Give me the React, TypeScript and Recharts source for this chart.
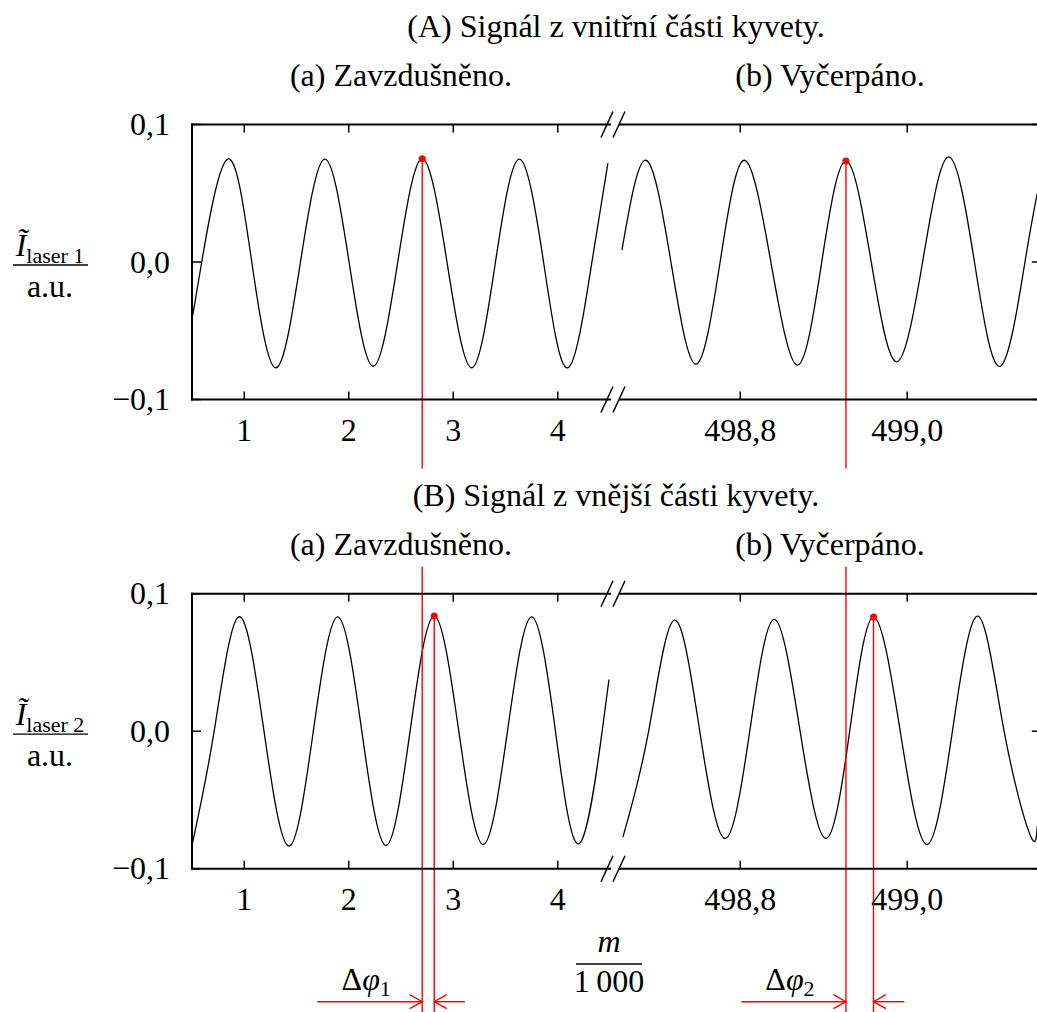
import React from 'react';
import { LineChart, Line, XAxis, YAxis, ReferenceLine, ReferenceDot } from 'recharts';

// (A) inner part of the cuvette, air-filled: x = m/1000, y = intensity (a.u.)
const aAirX = [0.5, 0.593, 0.841, 1.072, 1.303, 1.538, 1.772, 2.003, 2.234, 2.469, 2.703, 2.94, 3.176, 3.404, 3.632, 3.864, 4.095, 4.327, 4.48];
const aAirY = [-0.042, 0, 0.0748, 0, -0.077, 0, 0.0748, 0, -0.0758, 0, 0.0751, 0, -0.077, 0, 0.0748, 0, -0.077, 0, 0.0719];

// (A) evacuated
const aVacX = [498.6583, 498.6871, 498.717, 498.7469, 498.7759, 498.8048, 498.8367, 498.8686, 498.8976, 498.9266, 498.9569, 498.9872, 499.0184, 499.0495, 499.0805, 499.1114, 499.141, 499.1557];
const aVacY = [0.0086, 0.074, 0, -0.0743, 0, 0.074, 0, -0.075, 0, 0.0735, 0, -0.0726, 0, 0.0764, 0, -0.0758, 0, 0.0498];

// (B) outer part of the cuvette, air-filled
const bAirX = [0.5, 0.712, 0.949, 1.189, 1.428, 1.661, 1.894, 2.125, 2.356, 2.587, 2.818, 3.053, 3.287, 3.519, 3.75, 3.978, 4.206, 4.425, 4.49];
const bAirY = [-0.083, 0, 0.0832, 0, -0.0836, 0, 0.0832, 0, -0.0831, 0, 0.0837, 0, -0.0824, 0, 0.0832, 0, -0.0817, 0, 0.0376];

// (B) evacuated
const bVacX = [498.6595, 498.6903, 498.721, 498.7515, 498.782, 498.8114, 498.8407, 498.8717, 498.9026, 498.9311, 498.9596, 498.9916, 499.0236, 499.0541, 499.0847, 499.116, 499.1473, 499.1557];
const bVacY = [-0.077, 0, 0.0808, 0, -0.078, 0, 0.0813, 0, -0.078, 0, 0.083, 0, -0.0824, 0, 0.0837, 0, -0.0756, -0.069];

// marked maxima [air, evacuated]
const aPeakX = [2.703, 498.9266];
const aPeakY = [0.0751, 0.0735];
const bPeakX = [2.818, 498.9596];
const bPeakY = [0.0837, 0.083];

const airTicks = [1, 2, 3, 4];
const vacTicks = [498.8, 499.0];
const yTicks = [-0.1, 0, 0.1];

const panelTitles = ['(A) Signál z vnitřní části kyvety.', '(B) Signál z vnější části kyvety.'];
const sectionTitles = ['(a) Zavzdušněno.', '(b) Vyčerpáno.'];
const laserNames = ['laser 1', 'laser 2'];
const deltaSubs = ['1', '2'];

const W = 1045;
const H = 1012;
const PH = 275;
const TOPS = [124.5, 593.7];
const AIR = { x0: 192, w: 418, domain: [0.5, 4.5] as [number, number] };
const VAC = { x0: 620, w: 420.84, domain: [498.656, 499.16] as [number, number] };
const FONT = '"Liberation Serif", "Times New Roman", serif';
const FS = 32;
const RED = '#ff0000';
const FRAME = { stroke: '#000', strokeWidth: 2, strokeLinecap: 'square' as const };

function fmt(v: number, digits: number) {
  const s = Math.abs(v).toFixed(digits).replace('.', ',');
  return v < -1e-9 ? '\u2212' + s : s;
}

function BottomTick(p: any) {
  return (
    <g>
      <line x1={p.x} x2={p.x} y1={p.y} y2={p.y - 8} stroke="#000" strokeWidth={1.5} />
      <text x={p.x} y={p.y + 41} textAnchor="middle" fontSize={FS} fontFamily={FONT} fill="#000">
        {fmt(p.payload.value, p.digits)}
      </text>
    </g>
  );
}

function TopTick(p: any) {
  return <line x1={p.x} x2={p.x} y1={p.y} y2={p.y + 8} stroke="#000" strokeWidth={1.5} />;
}

function LeftTick(p: any) {
  return (
    <g>
      <line x1={p.x} x2={p.x + 9} y1={p.y} y2={p.y} stroke="#000" strokeWidth={1.5} />
      <text x={p.x - 22} y={p.y + 10.5} textAnchor="end" fontSize={FS} fontFamily={FONT} fill="#000">
        {fmt(p.payload.value, 1)}
      </text>
    </g>
  );
}

function RightTick(p: any) {
  return <line x1={p.x} x2={p.x - 9} y1={p.y} y2={p.y} stroke="#000" strokeWidth={1.5} />;
}

function Arrow({ tip, tail, y }: { tip: number; tail: number; y: number }) {
  const d = tail < tip ? 1 : -1;
  return (
    <g stroke={RED} strokeWidth={1.4} fill="none">
      <line x1={tail} y1={y} x2={tip} y2={y} />
      <polyline points={`${tip - d * 12.5},${y - 7} ${tip},${y} ${tip - d * 12.5},${y + 7}`} />
    </g>
  );
}

type SegProps = {
  xs: number[];
  ys: number[];
  seg: typeof AIR;
  top: number;
  ticks: number[];
  digits: number;
  side: 'left' | 'right';
  peakX: number;
  peakY: number;
  refX?: number;
  sub?: string;
};

function Segment(s: SegProps) {
  const data = s.xs.map((x, i) => ({ x, y: s.ys[i] }));
  // axes are 1px thick boxes, so the plot area lands exactly on the frame
  const margin = {
    left: s.seg.x0 - (s.side === 'left' ? 1 : 0),
    top: s.top - 1,
    right: W - s.seg.x0 - s.seg.w - (s.side === 'right' ? 1 : 0),
    bottom: H - s.top - PH - 1,
  };
  const inB = s.refX !== undefined;

  return (
    <div style={{ position: 'absolute', left: 0, top: 0 }}>
      <LineChart width={W} height={H} data={data} margin={margin}>
        <XAxis
          type="number"
          dataKey="x"
          domain={s.seg.domain}
          ticks={s.ticks}
          interval={0}
          height={1}
          tickSize={0}
          tickMargin={0}
          tickLine={false}
          axisLine={FRAME}
          tick={(p: any) => <BottomTick {...p} digits={s.digits} />}
          allowDataOverflow
        />
        <XAxis
          xAxisId="top"
          orientation="top"
          type="number"
          dataKey="x"
          domain={s.seg.domain}
          ticks={s.ticks}
          interval={0}
          height={1}
          tickSize={0}
          tickMargin={0}
          tickLine={false}
          axisLine={FRAME}
          tick={TopTick}
          allowDataOverflow
        />
        <YAxis
          type="number"
          domain={[-0.1, 0.1]}
          ticks={yTicks}
          interval={0}
          width={1}
          tickSize={0}
          tickMargin={0}
          tickLine={false}
          axisLine={FRAME}
          tick={LeftTick}
          hide={s.side === 'right'}
          allowDataOverflow
        />
        {s.side === 'right' && (
          <YAxis
            yAxisId="right"
            orientation="right"
            type="number"
            domain={[-0.1, 0.1]}
            ticks={yTicks}
            interval={0}
            width={1}
            tickSize={0}
            tickMargin={0}
            tickLine={false}
            axisLine={FRAME}
            tick={RightTick}
            allowDataOverflow
          />
        )}
        <Line
          type="natural"
          dataKey="y"
          stroke="#000"
          strokeWidth={1.3}
          dot={false}
          activeDot={false}
          isAnimationActive={false}
        />
        {inB && (
          <ReferenceLine
            ifOverflow="visible"
            segment={[{ x: s.refX, y: 0.1 }, { x: s.refX, y: -0.1 }]}
            shape={(p: any) => {
              const yTop = Math.min(p.y1, p.y2);
              const yBot = Math.max(p.y1, p.y2);
              return (
                <g>
                  <line x1={p.x1} x2={p.x1} y1={yTop - 27} y2={yBot + 150} stroke={RED} strokeWidth={1.4} />
                  <Arrow tip={p.x1} tail={p.x1 - 104.7} y={yBot + 133} />
                  <text x={p.x1 - 56} y={yBot + 121} textAnchor="middle" fontSize={FS} fontFamily={FONT} fill="#000">
                    Δ<tspan fontStyle="italic">φ</tspan>
                    <tspan fontSize={22} dy={6}>{s.sub}</tspan>
                  </text>
                </g>
              );
            }}
          />
        )}
        <ReferenceLine
          ifOverflow="visible"
          segment={[{ x: s.peakX, y: s.peakY }, { x: s.peakX, y: -0.1 }]}
          shape={(p: any) => {
            const yTop = Math.min(p.y1, p.y2);
            const yBot = Math.max(p.y1, p.y2);
            return (
              <g>
                <line x1={p.x1} x2={p.x1} y1={yTop} y2={yBot + (inB ? 150 : 69)} stroke={RED} strokeWidth={1.4} />
                {inB && <Arrow tip={p.x1} tail={p.x1 + 30.7} y={yBot + 133} />}
              </g>
            );
          }}
        />
        <ReferenceDot ifOverflow="visible" x={s.peakX} y={s.peakY} r={3.5} fill={RED} stroke="none" />
      </LineChart>
    </div>
  );
}

function Overlay() {
  return (
    <svg width={1037} height={1012} style={{ position: 'absolute', left: 0, top: 0 }} fontFamily={FONT} fontSize={FS}>
      {TOPS.map((top, k) => (
        <g key={k}>
          <text x={616} y={top - 88} textAnchor="middle">{panelTitles[k]}</text>
          <text x={AIR.x0 + AIR.w / 2} y={top - 38.5} textAnchor="middle">{sectionTitles[0]}</text>
          <text x={830} y={top - 38.5} textAnchor="middle">{sectionTitles[1]}</text>
          <text x={50} y={top + 131} textAnchor="middle">
            <tspan fontStyle="italic">Ĩ</tspan>
            <tspan fontSize={22} dy={7}>{laserNames[k]}</tspan>
          </text>
          <line x1={13} x2={88} y1={top + 140.5} y2={top + 140.5} stroke="#000" strokeWidth={1.3} />
          <text x={50} y={top + 172} textAnchor="middle">a.u.</text>
          {[top, top + PH].map((y) =>
            [607, 619].map((cx) => (
              <line key={`${y}-${cx}`} x1={cx - 6} y1={y + 13} x2={cx + 6} y2={y - 13} stroke="#000" strokeWidth={1.5} />
            ))
          )}
        </g>
      ))}
      <text x={609} y={952} textAnchor="middle" fontStyle="italic">m</text>
      <line x1={576} x2={642} y1={964} y2={964} stroke="#000" strokeWidth={1.3} />
      <text x={609} y={992} textAnchor="middle">1{'\u2009'}000</text>
    </svg>
  );
}

export default function App() {
  return (
    <div
      style={{
        position: 'absolute',
        left: 0,
        top: 0,
        width: 1037,
        height: 1012,
        overflow: 'hidden',
        background: '#fff',
        fontFamily: FONT,
      }}
    >
      <Segment xs={aAirX} ys={aAirY} seg={AIR} top={TOPS[0]} ticks={airTicks} digits={0} side="left" peakX={aPeakX[0]} peakY={aPeakY[0]} />
      <Segment xs={aVacX} ys={aVacY} seg={VAC} top={TOPS[0]} ticks={vacTicks} digits={1} side="right" peakX={aPeakX[1]} peakY={aPeakY[1]} />
      <Segment xs={bAirX} ys={bAirY} seg={AIR} top={TOPS[1]} ticks={airTicks} digits={0} side="left" peakX={bPeakX[0]} peakY={bPeakY[0]} refX={aPeakX[0]} sub={deltaSubs[0]} />
      <Segment xs={bVacX} ys={bVacY} seg={VAC} top={TOPS[1]} ticks={vacTicks} digits={1} side="right" peakX={bPeakX[1]} peakY={bPeakY[1]} refX={aPeakX[1]} sub={deltaSubs[1]} />
      <Overlay />
    </div>
  );
}
